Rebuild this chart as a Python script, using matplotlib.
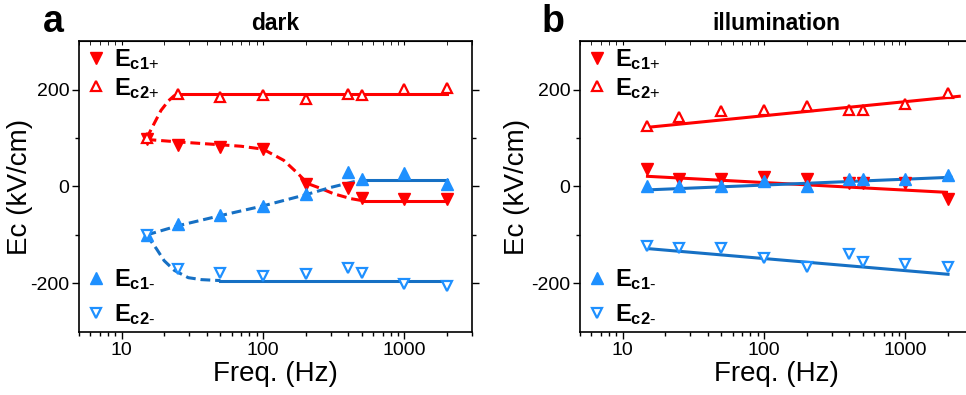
import numpy as np
import matplotlib
matplotlib.use('Agg')
import matplotlib.pyplot as plt
from matplotlib.ticker import LogLocator, NullFormatter, FixedLocator, FixedFormatter

plt.rcParams['font.family'] = ['Liberation Sans', 'DejaVu Sans']
plt.rcParams['mathtext.fontset'] = 'custom'
plt.rcParams['mathtext.rm'] = 'Liberation Sans'
plt.rcParams['mathtext.bf'] = 'Liberation Sans:bold'
plt.rcParams['axes.unicode_minus'] = False

red = '#ff0000'
blue_mk = '#1e90ff'
blue_ln = '#1670c4'

freq = [15, 25, 50, 100, 200, 400, 500, 1000, 2000]

# dark
ec1p_dark = [97, 86, 81, 77, 5, -4, -23, -25, -25]
ec2p_dark = [99, 190, 184, 188, 180, 191, 188, 202, 204]
ec1m_dark = [-100, -78, -58, -41, -15, 29, 16, 27, 6]
ec2m_dark = [-100, -171, -179, -185, -181, -169, -179, -202, -206]

# dark guide curves (dashed part, solid part)
g_ec2p_f = [15, 17, 19, 21.5, 23.5, 25]
g_ec2p_v = [99, 130, 157, 177, 187, 190]
s_ec2p_f = [25, 2000]
s_ec2p_v = [190, 190]

g_ec1p_f = [15, 25, 50, 70, 100, 140, 176, 207, 256, 316, 417, 500]
g_ec1p_v = [97, 92, 86, 83, 77, 54, 27, 6, -4, -15, -25, -29]
s_ec1p_f = [500, 2000]
s_ec1p_v = [-30, -30]

g_ec1m_f = [15, 25, 50, 100, 200, 300, 500]
g_ec1m_v = [-100, -81, -60, -40, -17, -2, 14]
s_ec1m_f = [500, 2000]
s_ec1m_v = [14, 14]

g_ec2m_f = [15, 17.6, 20, 23.6, 29.6, 36.6, 50]
g_ec2m_v = [-100, -128, -153, -173, -188, -192, -194]
s_ec2m_f = [50, 2000]
s_ec2m_v = [-194, -194]

# illumination
ec1p_ill = [37, 16, 16, 19, 16, 8, 8, 8, -25]
ec2p_ill = [124, 144, 155, 157, 165, 157, 157, 171, 192]
ec1m_ill = [2, 2, 2, 12, 2, 16, 16, 16, 23]
ec2m_ill = [-123, -127, -127, -147, -166, -139, -156, -159, -166]

fit_ec2p_f, fit_ec2p_v = [15, 2400], [122, 186]
fit_ec1p_f, fit_ec1p_v = [15, 1950], [21, -12]
fit_ec1m_f, fit_ec1m_v = [15, 2100], [-7, 19]
fit_ec2m_f, fit_ec2m_v = [15, 2000], [-128, -181]

labels = [r'$\mathbf{E_{c1\text{+}}}$', r'$\mathbf{E_{c2\text{+}}}$',
          r'$\mathbf{E_{c1\text{-}}}$', r'$\mathbf{E_{c2\text{-}}}$']

fig = plt.figure(figsize=(9.66, 3.95), dpi=100)
ax_a = fig.add_axes([0.0818, 0.1595, 0.4068, 0.7367])
ax_b = fig.add_axes([0.6004, 0.1595, 0.4068, 0.7367])

dash = (0, (3.2, 1.6))
lw = 2.2
ms = 8


def draw_points(ax, e1p, e2p, e1m, e2m):
    h1, = ax.plot(freq, e1p, 'v', color=red, ms=ms, ls='none', zorder=4)
    h2, = ax.plot(freq, e2p, '^', mfc='white', mec=red, mew=1.6, ms=ms - 1, ls='none', zorder=4)
    h3, = ax.plot(freq, e1m, '^', color=blue_mk, ms=ms, ls='none', zorder=4)
    h4, = ax.plot(freq, e2m, 'v', mfc='white', mec=blue_mk, mew=1.6, ms=ms - 1, ls='none', zorder=4)
    return [h1, h2, h3, h4]


def style(ax, title, ylab_x):
    ax.set_xscale('log')
    ax.set_xlim(5, 3000)
    ax.set_ylim(-300, 300)
    ax.xaxis.set_major_locator(FixedLocator([10, 100, 1000]))
    ax.xaxis.set_major_formatter(FixedFormatter(['10', '100', '1000']))
    ax.xaxis.set_minor_locator(LogLocator(base=10, subs=np.arange(2, 10)))
    ax.xaxis.set_minor_formatter(NullFormatter())
    ax.yaxis.set_major_locator(FixedLocator([-200, 0, 200]))
    ax.yaxis.set_minor_locator(FixedLocator([-100, 100]))
    ax.tick_params(which='both', direction='out', right=True, labelsize=14, width=1, pad=2)
    ax.tick_params(which='major', length=5)
    ax.tick_params(which='minor', length=3)
    top = ax.secondary_xaxis('top')
    top.xaxis.set_major_locator(FixedLocator([10, 100, 1000]))
    top.xaxis.set_minor_locator(LogLocator(base=10, subs=np.arange(2, 10)))
    top.xaxis.set_minor_formatter(NullFormatter())
    top.tick_params(which='both', direction='in', labeltop=False, length=3)
    for s in ax.spines.values():
        s.set_linewidth(1.2)
    ax.set_xlabel('Freq. (Hz)', fontsize=20, labelpad=2)
    ax.set_ylabel('Ec (kV/cm)', fontsize=20)
    ax.yaxis.set_label_coords(ylab_x, 0.5)
    ax.set_title(title, fontsize=16.5, fontweight='bold', pad=8)


def legends(ax, handles):
    kw = dict(frameon=False, fontsize=17, handletextpad=0.15, labelspacing=0.15,
              handlelength=1.2, borderaxespad=0.1, borderpad=0.1)
    l1 = ax.legend(handles[:2], labels[:2], loc='upper left', bbox_to_anchor=(-0.005, 0.995), **kw)
    ax.add_artist(l1)
    kw['labelspacing'] = 0.42
    ax.legend(handles[2:], labels[2:], loc='lower left', bbox_to_anchor=(-0.005, 0.0), **kw)


# panel a
ax_a.plot(g_ec2p_f, g_ec2p_v, color=red, lw=lw, ls=dash)
ax_a.plot(s_ec2p_f, s_ec2p_v, color=red, lw=lw)
ax_a.plot(g_ec1p_f, g_ec1p_v, color=red, lw=lw, ls=dash)
ax_a.plot(s_ec1p_f, s_ec1p_v, color=red, lw=lw)
ax_a.plot(g_ec1m_f, g_ec1m_v, color=blue_ln, lw=lw, ls=dash)
ax_a.plot(s_ec1m_f, s_ec1m_v, color=blue_ln, lw=lw)
ax_a.plot(g_ec2m_f, g_ec2m_v, color=blue_ln, lw=lw, ls=dash)
ax_a.plot(s_ec2m_f, s_ec2m_v, color=blue_ln, lw=lw)
h = draw_points(ax_a, ec1p_dark, ec2p_dark, ec1m_dark, ec2m_dark)
style(ax_a, 'dark', -0.117)
legends(ax_a, h)

# panel b
ax_b.plot(fit_ec2p_f, fit_ec2p_v, color=red, lw=lw)
ax_b.plot(fit_ec1p_f, fit_ec1p_v, color=red, lw=lw)
ax_b.plot(fit_ec1m_f, fit_ec1m_v, color=blue_ln, lw=lw)
ax_b.plot(fit_ec2m_f, fit_ec2m_v, color=blue_ln, lw=lw)
h = draw_points(ax_b, ec1p_ill, ec2p_ill, ec1m_ill, ec2m_ill)
style(ax_b, 'illumination', -0.127)
legends(ax_b, h)

fig.text(0.055, 0.945, 'a', fontsize=27, fontweight='bold', ha='center', va='center')
fig.text(0.572, 0.945, 'b', fontsize=27, fontweight='bold', ha='center', va='center')

plt.savefig('out.png', dpi=100)
